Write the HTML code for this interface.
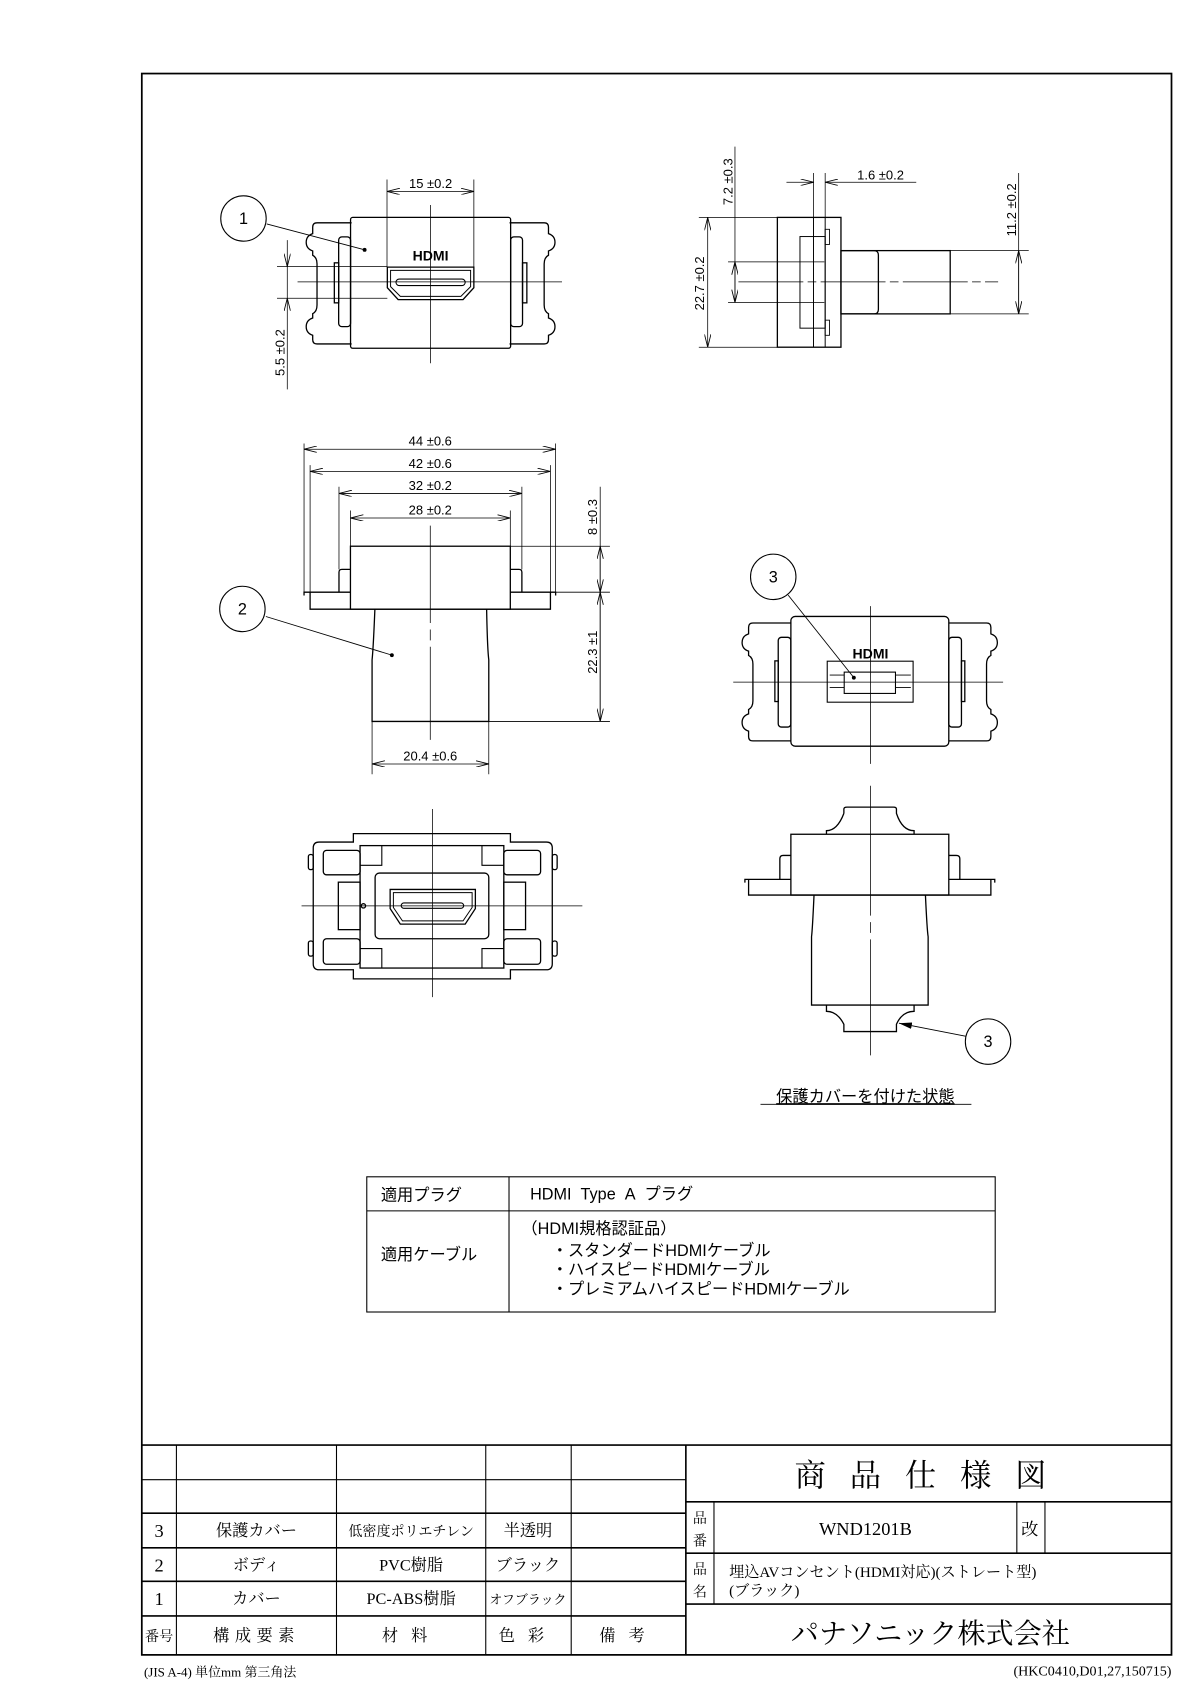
<!DOCTYPE html>
<html><head><meta charset="utf-8"><style>
html,body{margin:0;padding:0;background:#fff}
svg{display:block}
.s{font-family:"Liberation Sans","Noto Sans CJK JP",sans-serif}
.m{font-family:"Liberation Serif","Noto Serif CJK SC",serif}
</style></head><body>
<svg width="1190" height="1683" viewBox="0 0 1100 1556" xmlns="http://www.w3.org/2000/svg">
<defs>
<marker id="a" viewBox="0 0 12 6" refX="12" refY="3" markerWidth="12" markerHeight="6" orient="auto-start-reverse" markerUnits="userSpaceOnUse"><path d="M0,0 L12,3 L0,6" fill="none" stroke="#000" stroke-width="0.8"/></marker>
<marker id="f" viewBox="0 0 12 6" refX="12" refY="3" markerWidth="12" markerHeight="6" orient="auto" markerUnits="userSpaceOnUse"><path d="M0,0 L12,3 L0,6 Z" fill="#000"/></marker>
</defs>
<rect width="1100" height="1556" fill="#fff"/>
<!-- frame -->
<rect x="131" y="68" width="952" height="1462" fill="none" stroke="#000" stroke-width="1.6"/>

<g fill="none" stroke="#000" stroke-width="1.2">
<!-- ===== top-left front view ===== -->
<path d="M325,206 H293 Q289,206 289,210 V216 Q283,218 283,224 Q283,230 289,232 V236 Q293,238 293,244 V282 Q293,288 289,290 V294 Q283,296 283,302 Q283,308 289,310 V314 Q289,318 293,318 H325"/>
<path d="M471,206 H503 Q507,206 507,210 V216 Q513,218 513,224 Q513,230 507,232 V236 Q503,238 503,244 V282 Q503,288 507,290 V294 Q513,296 513,302 Q513,308 507,310 V314 Q507,318 503,318 H471"/>
<rect x="313" y="219" width="11" height="83" rx="3"/>
<rect x="309" y="243" width="4" height="37"/>
<rect x="472" y="219" width="11" height="83" rx="3"/>
<rect x="483" y="243" width="4" height="37"/>
<rect x="324" y="201" width="148" height="121" rx="2"/>
<path d="M358,247 H438 V266 L428,277 H368 L358,266 Z"/>
<path d="M361,250 H435 V265 L426,274 H370 L361,265 Z" stroke-width="0.9"/>
<rect x="366" y="258" width="64" height="6" rx="3" stroke-width="1"/>
<!-- ===== top-right side view ===== -->
<rect x="718.6" y="201" width="58.8" height="120"/>
<line x1="752" y1="201" x2="752" y2="321" stroke-width="0.9"/>
<line x1="762.8" y1="201" x2="762.8" y2="321" stroke-width="0.9"/>
<rect x="739.5" y="218.7" width="23.3" height="84.7" stroke-width="0.9"/>
<rect x="762.8" y="212" width="4" height="14" stroke-width="0.8"/>
<rect x="762.8" y="296" width="4" height="14" stroke-width="0.8"/>
<path d="M777.4,231.7 H808 Q812,231.7 812,236 V286 Q812,290.2 808,290.2 H777.4"/>
<rect x="777.4" y="231.7" width="101" height="58.5"/>
<!-- ===== middle-left elevation ===== -->
<rect x="323.9" y="505" width="147.8" height="58.2"/>
<path d="M313.3,547.5 V529 Q313.3,526.4 316,526.4 H323.9"/>
<path d="M482.4,547.5 V529 Q482.4,526.4 479.7,526.4 H471.7"/>
<path d="M281,550.6 V547.5 H323.9 M471.7,547.5 H513.6 V550.6"/>
<path d="M286.6,547.5 V563.2 H508.8 V547.5"/>
<path d="M346.5,563.2 Q345,600 343.9,610 V667 H451.8 V610 Q450.5,600 449.8,563.2"/>
<!-- ===== right-middle front w/ cover ===== -->
<path d="M731.1,576 H696 Q692,576 692,580 V586 Q686,588 686,594 Q686,600 692,602 V606 Q696,608 696,614 V648 Q696,654 692,656 V660 Q686,662 686,668 Q686,674 692,676 V681 Q692,685 696,685 H731.1"/>
<path d="M877.1,576 H912 Q916,576 916,580 V586 Q922,588 922,594 Q922,600 916,602 V606 Q912,608 912,614 V648 Q912,654 916,656 V660 Q922,662 922,668 Q922,674 916,676 V681 Q916,685 912,685 H877.1"/>
<rect x="719.4" y="589.2" width="11.7" height="83" rx="3"/>
<rect x="716.3" y="611" width="3.1" height="37.6"/>
<rect x="877.1" y="589.2" width="11.7" height="83" rx="3"/>
<rect x="888.8" y="611" width="3.1" height="37.6"/>
<rect x="731.1" y="569.9" width="146" height="120" rx="4"/>
<rect x="764.7" y="611.3" width="79.4" height="37.9" stroke-width="1"/>
<rect x="780.4" y="621.4" width="47.4" height="19.7" stroke-width="1"/>
<path d="M767,624.1 H780.4 M767,635.7 H780.4 M827.8,624.1 H842 M827.8,635.7 H842" stroke-width="0.8"/>
<!-- ===== lower-right side w/ cover ===== -->
<path d="M780.1,752 V748 Q780.1,746.2 783,746.2 H826 Q828.7,746.2 828.7,748 V752 Q834,768 845,768 V771.3 M780.1,752 Q774,768 764,768 V771.3"/>
<rect x="731.1" y="771.3" width="146" height="56.2"/>
<path d="M720.9,813 V794 Q720.9,790.9 724,790.9 H731.1 M887.3,813 V794 Q887.3,790.9 884,790.9 H877.1"/>
<path d="M688.6,816 V813 H731.1 M877.1,813 H919.6 V816"/>
<path d="M692,813 V827.5 H916 V813"/>
<path d="M752.5,827.5 Q751,860 750.2,866 V929.2 H858 V866 Q857,860 855.5,827.5"/>
<path d="M764,929.2 V935 Q774,935 780.1,947 V953.7 H828.7 V947 Q834,935 845,935 V929.2"/>
<!-- ===== bottom-left rear view ===== -->
<path d="M326.6,778.5 V770.7 H471.8 V778.5 H505 Q510.5,778.5 510.5,784 V891 Q510.5,896.6 505,896.6 H471.8 V905 H326.6 V896.6 H295 Q289.5,896.6 289.5,891 V784 Q289.5,778.5 295,778.5 Z"/>
<rect x="285" y="790" width="4.5" height="14" rx="2"/>
<rect x="285" y="870" width="4.5" height="14" rx="2"/>
<rect x="510.5" y="790" width="4.5" height="14" rx="2"/>
<rect x="510.5" y="870" width="4.5" height="14" rx="2"/>
<rect x="332.8" y="781.8" width="132.9" height="113.2"/>
<rect x="346.7" y="807.2" width="105.1" height="60.7" rx="4"/>
<path d="M332.8,800 H352.9 V781.8 M445.5,781.8 V800 H465.7 M332.8,877 H352.9 V895 M445.5,895 V877 H465.7" stroke-width="1"/>
<rect x="298.8" y="786.2" width="34" height="22.6" rx="3"/>
<rect x="298.8" y="867.9" width="34" height="23.6" rx="3"/>
<rect x="465.7" y="786.2" width="34" height="22.6" rx="3"/>
<rect x="465.7" y="867.9" width="34" height="23.6" rx="3"/>
<rect x="312.7" y="815.6" width="20.1" height="43.9"/>
<rect x="465.7" y="815.6" width="20.1" height="43.9"/>
<path d="M360.6,822.3 H439.4 V840 L430,854.4 H370 L360.6,840 Z"/>
<path d="M363.6,825.3 H436.4 V839 L428,851.4 H372 L363.6,839 Z" stroke-width="0.9"/>
<rect x="370.8" y="834.8" width="57.8" height="5" rx="2.5" stroke-width="1"/>
<circle cx="335.9" cy="837.5" r="2"/>
</g>

<!-- leaders, circles -->
<g fill="#fff" stroke="#000" stroke-width="1">
<circle cx="225" cy="202" r="21"/>
<circle cx="224" cy="563" r="21"/>
<circle cx="714.8" cy="533.3" r="21"/>
<circle cx="913.4" cy="963" r="21"/>
</g>
<g stroke="#000" stroke-width="0.8" fill="none">
<line x1="246.5" y1="207" x2="337" y2="231"/>
<line x1="245.7" y1="570" x2="362.2" y2="605.7"/>
<line x1="728.6" y1="550.2" x2="789.3" y2="626.5"/>
<line x1="892.5" y1="958" x2="831" y2="946" marker-end="url(#f)"/>
</g>
<g fill="#000"><circle cx="337" cy="231" r="1.8"/><circle cx="362.2" cy="605.7" r="1.8"/><circle cx="789.3" cy="626.5" r="1.8"/></g>
<g class="s" font-size="15" text-anchor="middle">
<text x="225" y="207">1</text><text x="224" y="568">2</text><text x="714.8" y="538.5">3</text><text x="913.4" y="968">3</text>
</g>
<g class="s" font-weight="bold" font-size="13" text-anchor="middle"><text x="398" y="241">HDMI</text><text x="804.7" y="609">HDMI</text></g>

<!-- centerlines -->
<g stroke="#000" stroke-width="0.7" fill="none">
<line x1="275" y1="260.6" x2="519.5" y2="260.6"/>
<line x1="398" y1="189.5" x2="398" y2="335.8"/>
<line x1="682.6" y1="260.6" x2="922.7" y2="260.6" stroke-dasharray="60,4,8,4"/>
<line x1="397.7" y1="486" x2="397.7" y2="684" stroke-dasharray="90,6,10,6"/>
<line x1="677.8" y1="630.6" x2="927.3" y2="630.6"/>
<line x1="804.7" y1="560.4" x2="804.7" y2="706.2"/>
<line x1="804.7" y1="726.5" x2="804.7" y2="975.7" stroke-dasharray="120,6,10,6"/>
<line x1="278.7" y1="837.5" x2="538.3" y2="837.5"/>
<line x1="399.8" y1="748" x2="399.8" y2="921.9"/>
</g>

<!-- dimensions -->
<g stroke="#000" stroke-width="0.7" fill="none">
<!-- 15 -->
<path d="M357.7,166 V247 M438,166 V247"/>
<line x1="357.7" y1="177" x2="438" y2="177" marker-start="url(#a)" marker-end="url(#a)"/>
<!-- 5.5 -->
<path d="M256,246.5 H358 M256,275.7 H358"/>
<line x1="265.5" y1="222" x2="265.5" y2="246.5" marker-end="url(#a)"/>
<line x1="265.5" y1="360" x2="265.5" y2="275.7" marker-end="url(#a)"/>
<line x1="265.5" y1="246.5" x2="265.5" y2="275.7"/>
<!-- 1.6 -->
<path d="M752.1,160 V201 M762.8,160 V201"/>
<line x1="727" y1="168.5" x2="752.1" y2="168.5" marker-end="url(#a)"/>
<line x1="847" y1="168.5" x2="762.8" y2="168.5" marker-end="url(#a)"/>
<!-- 22.7 -->
<path d="M646,201 H718.6 M646,321 H718.6"/>
<line x1="654.2" y1="201" x2="654.2" y2="321" marker-start="url(#a)" marker-end="url(#a)"/>
<!-- 7.2 -->
<path d="M673,242.1 H762 M673,279.7 H762"/>
<line x1="679.4" y1="135.6" x2="679.4" y2="279.7"/>
<line x1="679.4" y1="242.1" x2="679.4" y2="279.7" marker-start="url(#a)" marker-end="url(#a)"/>
<!-- 11.2 -->
<path d="M878.5,231.7 H951 M878.5,290.2 H951"/>
<line x1="941.7" y1="160" x2="941.7" y2="290.2"/>
<line x1="941.7" y1="231.7" x2="941.7" y2="290.2" marker-start="url(#a)" marker-end="url(#a)"/>
<!-- widths middle -->
<path d="M281,410 V550.6 M513.6,410 V550.6 M286.6,430 V547.5 M508.8,430 V547.5 M313.3,450 V526.4 M482.4,450 V526.4 M323.9,472 V505 M471.7,472 V505"/>
<line x1="281" y1="415.3" x2="513.6" y2="415.3" marker-start="url(#a)" marker-end="url(#a)"/>
<line x1="286.6" y1="435.8" x2="508.8" y2="435.8" marker-start="url(#a)" marker-end="url(#a)"/>
<line x1="313.3" y1="456.2" x2="482.4" y2="456.2" marker-start="url(#a)" marker-end="url(#a)"/>
<line x1="323.9" y1="478.9" x2="471.7" y2="478.9" marker-start="url(#a)" marker-end="url(#a)"/>
<!-- 8 / 22.3 -->
<path d="M471.7,505 H563.8 M513.6,547.5 H563.8 M451.8,667 H563.8"/>
<line x1="554.8" y1="450" x2="554.8" y2="667"/>
<line x1="554.8" y1="505" x2="554.8" y2="547.5" marker-start="url(#a)" marker-end="url(#a)"/>
<line x1="554.8" y1="547.5" x2="554.8" y2="667" marker-start="url(#a)" marker-end="url(#a)"/>
<!-- 20.4 -->
<path d="M343.9,667 V715.8 M451.8,667 V715.8"/>
<line x1="343.9" y1="706.3" x2="451.8" y2="706.3" marker-start="url(#a)" marker-end="url(#a)"/>
</g>
<g class="s" font-size="12" fill="#000">
<text x="398" y="174" text-anchor="middle">15 ±0.2</text>
<text x="814" y="166" text-anchor="middle">1.6 ±0.2</text>
<text x="397.7" y="412" text-anchor="middle">44 ±0.6</text>
<text x="397.7" y="432.5" text-anchor="middle">42 ±0.6</text>
<text x="397.7" y="453" text-anchor="middle">32 ±0.2</text>
<text x="397.7" y="475.5" text-anchor="middle">28 ±0.2</text>
<text x="397.7" y="703" text-anchor="middle">20.4 ±0.6</text>
<text transform="translate(263,326) rotate(-90)" text-anchor="middle">5.5 ±0.2</text>
<text transform="translate(651,262) rotate(-90)" text-anchor="middle">22.7 ±0.2</text>
<text transform="translate(677,168) rotate(-90)" text-anchor="middle">7.2 ±0.3</text>
<text transform="translate(939,194) rotate(-90)" text-anchor="middle">11.2 ±0.2</text>
<text transform="translate(552,478) rotate(-90)" text-anchor="middle">8 ±0.3</text>
<text transform="translate(552,603) rotate(-90)" text-anchor="middle">22.3 ±1</text>
</g>
<text class="s" x="800" y="1019" font-size="15" text-anchor="middle" text-decoration="underline">保護カバーを付けた状態</text>
<line x1="703" y1="1021" x2="898" y2="1021" stroke="#000" stroke-width="0.8"/>

<!-- spec table -->
<g stroke="#000" stroke-width="1" fill="none">
<rect x="339" y="1088" width="581" height="125"/>
<line x1="470.5" y1="1088" x2="470.5" y2="1213"/>
<line x1="339" y1="1119.5" x2="920" y2="1119.5"/>
</g>
<g class="s" font-size="15" fill="#000">
<text x="352" y="1110">適用プラグ</text>
<text x="490" y="1109">HDMI&#160;&#160;Type&#160;&#160;A&#160;&#160;プラグ</text>
<text x="352" y="1165">適用ケーブル</text>
<text x="482" y="1141">（HDMI規格認証品）</text>
<text x="510" y="1161">・スタンダードHDMIケーブル</text>
<text x="510" y="1179">・ハイスピードHDMIケーブル</text>
<text x="510" y="1197">・プレミアムハイスピードHDMIケーブル</text>
</g>

<!-- title block -->
<g stroke="#000" stroke-width="1.5" fill="none">
<line x1="131" y1="1336" x2="1083" y2="1336"/>
<line x1="131" y1="1399" x2="634" y2="1399"/>
<line x1="131" y1="1431" x2="634" y2="1431"/>
<line x1="131" y1="1462" x2="634" y2="1462"/>
<line x1="131" y1="1494" x2="634" y2="1494"/>
<line x1="634" y1="1388.5" x2="1083" y2="1388.5"/>
<line x1="634" y1="1436" x2="1083" y2="1436"/>
<line x1="634" y1="1483" x2="1083" y2="1483"/>
<line x1="634" y1="1336" x2="634" y2="1530"/>
</g>
<g stroke="#000" stroke-width="1" fill="none">
<line x1="131" y1="1368" x2="634" y2="1368"/>
<line x1="163" y1="1336" x2="163" y2="1530"/>
<line x1="311" y1="1336" x2="311" y2="1530"/>
<line x1="449" y1="1336" x2="449" y2="1530"/>
<line x1="528" y1="1336" x2="528" y2="1530"/>
<line x1="660" y1="1388.5" x2="660" y2="1483"/>
<line x1="940" y1="1388.5" x2="940" y2="1436"/>
<line x1="966" y1="1388.5" x2="966" y2="1436"/>
</g>
<g class="m" fill="#000" text-anchor="middle">
<text x="147" y="1421" font-size="17">3</text>
<text x="147" y="1453" font-size="17">2</text>
<text x="147" y="1484" font-size="17">1</text>
<text x="147" y="1517" font-size="13">番号</text>
<text x="237" y="1420" font-size="15">保護カバー</text>
<text x="237" y="1452" font-size="15">ボディ</text>
<text x="237" y="1483" font-size="15">カバー</text>
<text x="237" y="1517" font-size="15" letter-spacing="5">構成要素</text>
<text x="380" y="1420" font-size="13">低密度ポリエチレン</text>
<text x="380" y="1452" font-size="15">PVC樹脂</text>
<text x="380" y="1483" font-size="15">PC-ABS樹脂</text>
<text x="380" y="1517" font-size="15" letter-spacing="12">材料</text>
<text x="488" y="1420" font-size="15">半透明</text>
<text x="488" y="1452" font-size="15">ブラック</text>
<text x="488" y="1483" font-size="12">オフブラック</text>
<text x="488" y="1517" font-size="15" letter-spacing="12">色彩</text>
<text x="581" y="1517" font-size="15" letter-spacing="12">備考</text>
<text x="862" y="1374" font-size="29" letter-spacing="22">商品仕様図</text>
<text x="800" y="1419" font-size="17">WND1201B</text>
<text x="952" y="1419" font-size="16">改</text>
<text x="647" y="1408" font-size="13">品</text>
<text x="647" y="1429" font-size="13">番</text>
<text x="647" y="1455" font-size="13">品</text>
<text x="647" y="1476" font-size="13">名</text>
<text x="860" y="1519" font-size="26">パナソニック株式会社</text>
</g>
<g class="m" fill="#000" font-size="14">
<text x="674" y="1458">埋込AVコンセント(HDMI対応)(ストレート型)</text>
<text x="674" y="1475">(ブラック)</text>
<text x="133" y="1550" font-size="12">(JIS A-4) 単位mm 第三角法</text>
<text x="1083" y="1549" font-size="13" text-anchor="end">(HKC0410,D01,27,150715)</text>
</g>
</svg>
</body></html>
